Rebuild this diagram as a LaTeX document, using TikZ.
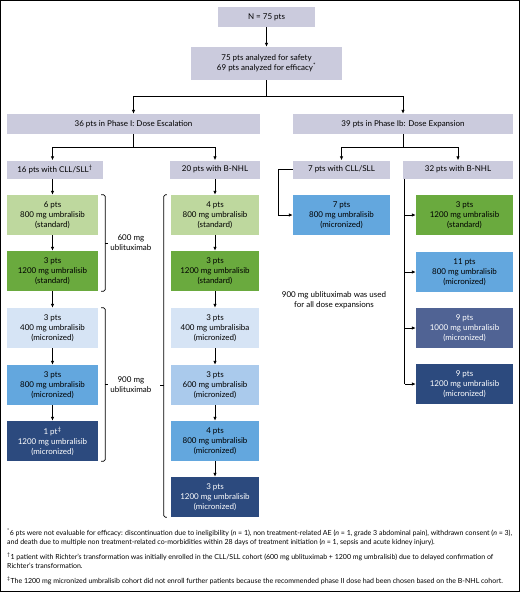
\documentclass[tikz,border=0pt]{standalone}
\usepackage{fontspec}
\setmainfont{Lato}
\usetikzlibrary{arrows.meta,positioning,calc}
\definecolor{hdgray}{RGB}{203,203,221}
\definecolor{stdlight}{RGB}{190,216,158}
\definecolor{stddark}{RGB}{106,170,62}
\definecolor{mic400}{RGB}{214,228,245}
\definecolor{mic600}{RGB}{170,202,236}
\definecolor{mic800}{RGB}{99,167,222}
\definecolor{mic1000}{RGB}{80,99,148}
\definecolor{mic1200}{RGB}{44,74,126}

\begin{document}
\begin{tikzpicture}[x=1pt, y=-1pt,
    head/.style={rectangle, fill=hdgray, inner sep=0pt, align=center, font=\fontsize{8}{10}\selectfont},
    dose/.style={rectangle, minimum height=40pt, inner sep=0pt, align=center, font=\fontsize{8}{10}\selectfont},
    darkdose/.style={dose, text=white},
    arr/.style={-{Latex[length=4pt,width=3.5pt]}, line width=0.8pt},
    link/.style={line width=0.8pt},
    brk/.style={line width=0.7pt, rounded corners=1.5pt},
    lbl/.style={align=center, inner sep=0pt, font=\fontsize{8}{10}\selectfont},
    note/.style={anchor=north west, align=left, inner sep=0pt, font=\fontsize{7}{9}\selectfont}
  ]

  \useasboundingbox (0,0) rectangle (520,592);
  \draw[line width=1pt] (0.5,0.5) rectangle (519.5,591.5);

  % Top of the flow
  \node[head, minimum width=97, minimum height=20] (total) at (266.5,17) {N = 75 pts};
  \node[head, minimum width=151, minimum height=33] (analyzed) at (266.5,63.5)
    {75 pts analyzed for safety\\69 pts analyzed for efficacy\textsuperscript{*}};
  \node[head, minimum width=253, minimum height=20] (phaseI) at (133.5,124) {36 pts in Phase I: Dose Escalation};
  \node[head, minimum width=220, minimum height=20] (phaseIb) at (403,124) {39 pts in Phase Ib: Dose Expansion};

  % Cohorts
  \node[head, minimum width=96, minimum height=18] (cllI) at (55,169.5) {16 pts with CLL/SLL\textsuperscript{†}};
  \node[head, minimum width=90, minimum height=18] (nhlI) at (215,169.5) {20 pts with B-NHL};
  \node[head, minimum width=97, minimum height=18] (cllIb) at (341.5,169.5) {7 pts with CLL/SLL};
  \node[head, minimum width=110, minimum height=18] (nhlIb) at (458,169.5) {32 pts with B-NHL};

  % Phase I, CLL/SLL
  \node[dose, fill=stdlight, minimum width=91] (cA) at (52.5,215) {6 pts\\800 mg umbralisib\\(standard)};
  \node[dose, fill=stddark, minimum width=91] (cB) at (52.5,271) {3 pts\\1200 mg umbralisib\\(standard)};
  \node[dose, fill=mic400, minimum width=91] (cC) at (52.5,328) {3 pts\\400 mg umbralisib\\(micronized)};
  \node[dose, fill=mic800, minimum width=91] (cD) at (52.5,385) {3 pts\\800 mg umbralisib\\(micronized)};
  \node[darkdose, fill=mic1200, minimum width=91] (cE) at (52.5,441) {1 pt\textsuperscript{‡}\\1200 mg umbralisib\\(micronized)};

  % Phase I, B-NHL
  \node[dose, fill=stdlight, minimum width=88] (nA) at (215,215) {4 pts\\800 mg umbralisib\\(standard)};
  \node[dose, fill=stddark, minimum width=88] (nB) at (215,271) {3 pts\\1200 mg umbralisib\\(standard)};
  \node[dose, fill=mic400, minimum width=88] (nC) at (215,328) {3 pts\\400 mg umbralisiba\\(micronized)};
  \node[dose, fill=mic600, minimum width=88] (nD) at (215,385) {3 pts\\600 mg umbralisib\\(micronized)};
  \node[dose, fill=mic800, minimum width=88] (nE) at (215,441) {4 pts\\800 mg umbralisib\\(micronized)};
  \node[darkdose, fill=mic1200, minimum width=88] (nF) at (215,497) {3 pts\\1200 mg umbralisib\\(micronized)};

  % Phase Ib
  \node[dose, fill=mic800, minimum width=97] (xA) at (341.5,215) {7 pts\\800 mg umbralisib\\(micronized)};
  \node[dose, fill=stddark, minimum width=97] (eA) at (464.5,215) {3 pts\\1200 mg umbralisib\\(standard)};
  \node[dose, fill=mic800, minimum width=97] (eB) at (464.5,272) {11 pts\\800 mg umbralisib\\(micronized)};
  \node[darkdose, fill=mic1000, minimum width=97] (eC) at (464.5,328) {9 pts\\1000 mg umbralisib\\(micronized)};
  \node[darkdose, fill=mic1200, minimum width=97] (eD) at (464.5,384) {9 pts\\1200 mg umbralisib\\(micronized)};

  % Arrows
  \draw[arr] (total) -- (analyzed);
  \draw[link] (analyzed.south) -- ++(0,16) coordinate (splitTop);
  \draw[arr] (splitTop) -| (phaseI.north);
  \draw[arr] (splitTop) -| (phaseIb.north);

  \draw[link] (phaseI.south) -- ++(0,13) coordinate (splitI);
  \draw[arr] (splitI) -| (cllI.north -| cA.north);
  \draw[arr] (splitI) -| (nhlI.north);

  \draw[link] (phaseIb.south) -- ++(0,13) coordinate (splitIb);
  \draw[arr] (splitIb) -| (cllIb.north);
  \draw[arr] (splitIb) -| (nhlIb.north);

  \draw[arr] (cllI.south -| cA.north) -- (cA.north);
  \foreach \a/\b in {cA/cB, cB/cC, cC/cD, cD/cE} \draw[arr] (\a) -- (\b);
  \draw[arr] (nhlI.south) -- (nA.north);
  \foreach \a/\b in {nA/nB, nB/nC, nC/nD, nD/nE, nE/nF} \draw[arr] (\a) -- (\b);

  \draw[arr] (cllIb.west) -- ++(-14,0) |- (xA.west);
  \coordinate (trunk) at ([xshift=2pt]nhlIb.south west);
  \draw[link] (trunk) -- (trunk |- eD.west);
  \foreach \e in {eA, eB, eC, eD} \draw[arr] (trunk |- \e.west) -- (\e.west);

  % Ublituximab brackets
  \draw[brk] ([xshift=3pt]cA.north east) -- ([xshift=7pt]cA.north east) -- ([xshift=7pt]cB.south east) -- ([xshift=3pt]cB.south east);
  \draw[brk] ($(cA.north east)!0.5!(cB.south east)+(7,0)$) -- ++(3,0) coordinate (tickA);
  \node[lbl, anchor=west] (ubl600) at ([xshift=2pt]tickA) {600 mg\\ublituximab};

  \draw[brk] ([xshift=3pt]cC.north east) -- ([xshift=7pt]cC.north east) -- ([xshift=7pt]cE.south east) -- ([xshift=3pt]cE.south east);
  \draw[brk] ($(cC.north east)!0.5!(cE.south east)+(7,0)$) -- ++(3,0) coordinate (tickB);
  \node[lbl, anchor=west] (ubl900) at ([xshift=2pt]tickB) {900 mg\\ublituximab};

  \draw[brk] ([xshift=-4pt]nA.north west) -- ([xshift=-7pt]nA.north west) -- ([xshift=-7pt]nF.south west) -- ([xshift=-4pt]nF.south west);
  \draw[brk] ([xshift=-7pt]nD.west) -- ++(-4,0);

  \node[lbl] (expnote) at (334,300) {900 mg ublituximab was used\\for all dose expansions};

  % Footnotes
  \node[note] (fnA) at (7,529) {\textsuperscript{*}6 pts were not evaluable for efficacy: discontinuation due to ineligibility (\textit{n} = 1), non treatment-related AE (\textit{n} = 1, grade 3 abdominal pain), withdrawn consent (\textit{n} = 3),\\and death due to multiple non treatment-related co-morbidities within 28 days of treatment initiation (\textit{n} = 1, sepsis and acute kidney injury).};
  \node[note] (fnB) at (7,553) {\textsuperscript{†}1 patient with Richter’s transformation was initially enrolled in the CLL/SLL cohort (600 mg ublituximab + 1200 mg umbralisib) due to delayed confirmation of\\Richter’s transformation.};
  \node[note] (fnC) at (7,577) {\textsuperscript{‡}The 1200 mg micronized umbralisib cohort did not enroll further patients because the recommended phase II dose had been chosen based on the B-NHL cohort.};

\end{tikzpicture}
\end{document}
